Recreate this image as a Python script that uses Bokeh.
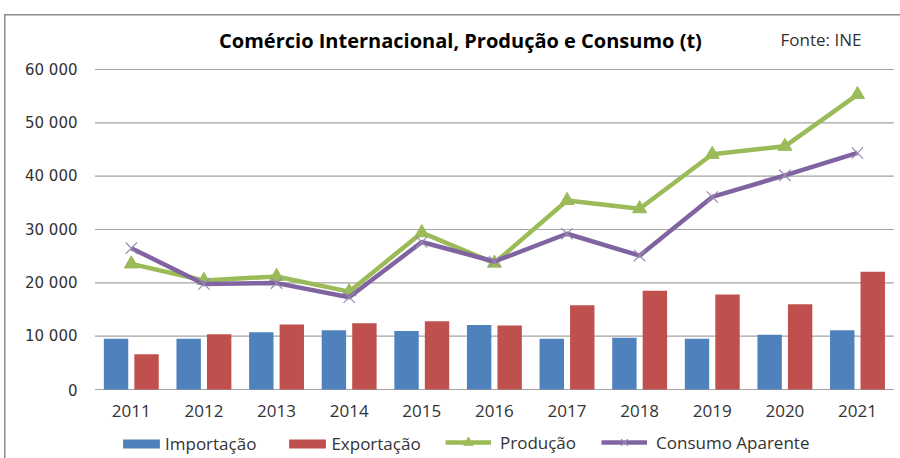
from bokeh.plotting import figure
from bokeh.models import Range1d, Legend, LegendItem, Label, ColumnDataSource
from bokeh.embed import file_html
from bokeh.resources import INLINE

years = ["2011", "2012", "2013", "2014", "2015", "2016", "2017", "2018", "2019", "2020", "2021"]
importacao = [9500, 9500, 10750, 11100, 10950, 12100, 9500, 9700, 9500, 10250, 11100]
exportacao = [6600, 10350, 12200, 12400, 12800, 12000, 15800, 18500, 17800, 16000, 22100]
producao = [23550, 20450, 21200, 18350, 29400, 23700, 35450, 33900, 44100, 45600, 55300]
consumo = [26500, 19800, 19950, 17300, 27650, 24000, 29200, 25100, 36100, 40150, 44350]

y_ticks = [0, 10000, 20000, 30000, 40000, 50000, 60000]
y_tick_labels = ["0", "10 000", "20 000", "30 000", "40 000", "50 000", "60 000"]

title_text = "Comércio Internacional, Produção e Consumo (t)"
source_text = "Fonte: INE"

W, H = 900, 458
# layout geometry (pixels)
cat_px = 72.62          # width of one year band
first_cx = 130.8        # centre of first band
zero_py = 389           # y pixel of value 0 (from top)
top_py = 69             # y pixel of top tick
units_per_px = y_ticks[-1] / (zero_py - top_py)

x_range = Range1d(-first_cx / cat_px, (W - first_cx) / cat_px)
y_range = Range1d(-(H - zero_py) * units_per_px, y_ticks[-1] + top_py * units_per_px)

idx = list(range(len(years)))
src = ColumnDataSource(dict(i=idx, xi=[i - 0.21 for i in idx], xe=[i + 0.21 for i in idx],
                            imp=importacao, exp=exportacao, prod=producao, cons=consumo))

p = figure(width=W, height=H, x_range=x_range, y_range=y_range, output_backend="svg",
           toolbar_location=None, x_axis_location=None, y_axis_location=None,
           min_border=0)
p.outline_line_color = None
p.background_fill_alpha = 0
p.border_fill_alpha = 0
for g in p.grid:
    g.visible = False
p.styles = {
    "background-color": "white",
    "background-image": "linear-gradient(#8c8c8c, #8c8c8c), linear-gradient(#8c8c8c, #8c8c8c)",
    "background-size": "1.5px 100%, 100% 1.5px",
    "background-position": "4px 14px, 4px 14px",
    "background-repeat": "no-repeat",
}

# gridlines at the y ticks, spanning the year bands
n = len(years)
p.segment(x0=[-0.5] * len(y_ticks), x1=[n - 0.5] * len(y_ticks), y0=y_ticks, y1=y_ticks,
          line_color="#a3a3a3", line_width=1.2)

# bars
r_imp = p.vbar(x="xi", top="imp", width=0.336, source=src,
               fill_color="#4F81BD", line_color=None)
r_exp = p.vbar(x="xe", top="exp", width=0.336, source=src,
               fill_color="#C0504D", line_color=None)

# lines
r_pl = p.line(x="i", y="prod", source=src, line_color="#9BBB59", line_width=4.5)
r_pm = p.scatter(x="i", y="prod", source=src, marker="triangle", size=14,
                 fill_color="#9BBB59", line_color="#9BBB59")
r_cl = p.line(x="i", y="cons", source=src, line_color="#8064A2", line_width=4.5)
r_cm = p.scatter(x="i", y="cons", source=src, marker="x", size=16,
                 line_color="#9a8bb0", line_width=1.2)

# y tick labels (right edge at x=77px)
ylab_x = (77 - first_cx) / cat_px
p.text(x=[ylab_x] * len(y_ticks), y=y_ticks, text=y_tick_labels, text_align="right",
       text_baseline="middle", text_font={"value": "DejaVu Sans"}, text_font_size="15px",
       text_color="#333333")

# year labels (centred at y=410px)
xlab_y = (zero_py - 410) * units_per_px
p.text(x=idx, y=[xlab_y] * n, text=years, text_align="center", text_baseline="middle",
       text_font={"value": "Open Sans"}, text_font_size="17px", text_color="#333333")

# title and source
p.add_layout(Label(x=460, y=H - 40, x_units="screen", y_units="screen", text=title_text,
                   text_align="center", text_baseline="middle", text_font="Open Sans",
                   text_font_style="bold", text_font_size="20px", text_color="black"))
p.add_layout(Label(x=780, y=H - 39, x_units="screen", y_units="screen", text=source_text,
                   text_align="left", text_baseline="middle", text_font="Open Sans",
                   text_font_size="17px", text_color="#333333"))

legend_style = dict(orientation="horizontal", padding=0, margin=0,
                    label_text_font="Open Sans", label_text_font_size="17px",
                    label_text_color="#333333", border_line_alpha=0,
                    background_fill_alpha=0, label_height=20)

legend_bars = Legend(items=[
    LegendItem(label="Importação", renderers=[r_imp]),
    LegendItem(label="Exportação", renderers=[r_exp]),
], location=(118, H - 455), spacing=28, glyph_width=46, glyph_height=11,
    label_standoff=1, **legend_style)

legend_lines = Legend(items=[
    LegendItem(label="Produção", renderers=[r_pl, r_pm]),
    LegendItem(label="Consumo Aparente", renderers=[r_cl, r_cm]),
], location=(445, H - 454), spacing=25, glyph_width=46, glyph_height=24,
    label_standoff=9, **legend_style)

p.add_layout(legend_bars, "center")
p.add_layout(legend_lines, "center")

open("out.html", "w").write(file_html(p, INLINE))
